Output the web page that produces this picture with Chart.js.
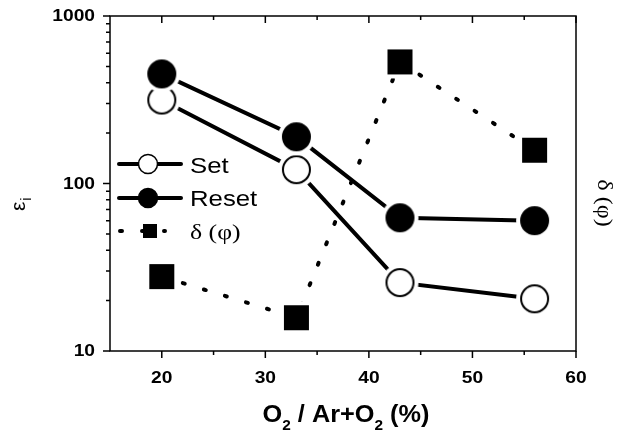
<!DOCTYPE html>
<html>
<head>
<meta charset="utf-8">
<script src="https://cdn.jsdelivr.net/npm/chart.js@4"></script>
<style>
    html, body { margin: 0; padding: 0; background: #fff; }
</style>
</head>
<body>
<canvas id="myChart" width="627" height="432"></canvas>
<script>
let o2_percent = [20, 33, 43, 56];
let set_values = [315, 121, 25.6, 20.5];
let reset_values = [451, 190, 62.4, 60];
let delta_values = [27.8, 15.8, 532, 158];
let x_ticks = [20, 30, 40, 50, 60];
let x_minor = [25, 35, 45, 55];
let y_ticks = [10, 100, 1000];

// marker images: white ring around the mark so lines stop short of it
function makeMarker(kind, size, ring) {
    let c = document.createElement('canvas');
    let full = Math.ceil(size + 2 * ring + 4);
    c.width = full;
    c.height = full;
    let g = c.getContext('2d');
    let m = full / 2;
    g.fillStyle = '#fff';
    if (kind === 'square') {
        g.fillRect(m - size / 2 - ring, m - size / 2 - ring, size + 2 * ring, size + 2 * ring);
        g.fillStyle = '#000';
        g.fillRect(m - size / 2, m - size / 2, size, size);
    } else {
        g.beginPath();
        g.arc(m, m, size / 2 + ring, 0, Math.PI * 2);
        g.fill();
        g.beginPath();
        g.arc(m, m, size / 2 - 1, 0, Math.PI * 2);
        g.fillStyle = kind === 'open' ? '#fff' : '#000';
        g.fill();
        g.lineWidth = 2;
        g.strokeStyle = '#000';
        g.stroke();
    }
    return c;
}

let openMark = makeMarker('open', 29, 4);
let fullMark = makeMarker('filled', 29, 4);
let squareMark = makeMarker('square', 25, 4);

function toPoints(values) {
    return o2_percent.map((x, i) => ({ x: x, y: values[i] }));
}

function drawText(ctx, text, x, y, font, hscale, align) {
    ctx.save();
    ctx.font = font;
    let w = ctx.measureText(text).width * hscale;
    let sx = x;
    if (align === 'center') sx = x - w / 2;
    if (align === 'right') sx = x - w;
    ctx.translate(sx, y);
    ctx.scale(hscale, 1);
    ctx.textAlign = 'left';
    ctx.fillText(text, 0, 0);
    ctx.restore();
    return w;
}

const decorations = {
    id: 'decorations',
    afterDatasetsDraw(chart) {
        let ctx = chart.ctx;
        let area = chart.chartArea;
        let xs = chart.scales.x;
        let ys = chart.scales.y;
        ctx.save();
        ctx.fillStyle = '#000';
        ctx.strokeStyle = '#000';

        // frame
        ctx.lineWidth = 1.5;
        ctx.strokeRect(area.left, area.top, area.right - area.left, area.bottom - area.top);

        // ticks
        ctx.beginPath();
        y_ticks.forEach(v => {
            let p = ys.getPixelForValue(v);
            ctx.moveTo(area.left - 7, p);
            ctx.lineTo(area.left, p);
        });
        [10, 100].forEach(d => {
            for (let k = 2; k <= 9; k++) {
                let p = ys.getPixelForValue(d * k);
                ctx.moveTo(area.left - 4, p);
                ctx.lineTo(area.left, p);
            }
        });
        x_ticks.forEach(v => {
            let p = xs.getPixelForValue(v);
            ctx.moveTo(p, area.bottom);
            ctx.lineTo(p, area.bottom + 7);
            ctx.moveTo(p, area.top);
            ctx.lineTo(p, area.top + 7);
        });
        x_minor.forEach(v => {
            let p = xs.getPixelForValue(v);
            ctx.moveTo(p, area.bottom);
            ctx.lineTo(p, area.bottom + 4);
            ctx.moveTo(p, area.top);
            ctx.lineTo(p, area.top + 4);
        });
        ctx.stroke();

        // tick labels
        ctx.textBaseline = 'middle';
        y_ticks.forEach(v => {
            drawText(ctx, String(v), area.left - 15, ys.getPixelForValue(v) + 1, 'bold 16px "Liberation Sans", Arial', 1.2, 'right');
        });
        ctx.textBaseline = 'alphabetic';
        x_ticks.forEach(v => {
            drawText(ctx, String(v), xs.getPixelForValue(v), 383, 'bold 16px "Liberation Sans", Arial', 1.2, 'center');
        });

        // x title with subscripts
        let big = 'bold 23px "Liberation Sans", Arial';
        let sub = 'bold 14px "Liberation Sans", Arial';
        let parts = [['O', big, 0], ['2', sub, 8], [' / Ar+O', big, 0], ['2', sub, 8], [' (%)', big, 0]];
        let hs = 1.1;
        let total = 0;
        parts.forEach(p => { ctx.font = p[1]; total += ctx.measureText(p[0]).width * hs; });
        let cx = (area.left + area.right) / 2 - total / 2 + 3;
        parts.forEach(p => {
            cx += drawText(ctx, p[0], cx, 422 + p[2], p[1], hs, 'left');
        });

        // left title  εi
        ctx.save();
        ctx.translate(25, 203);
        ctx.rotate(-Math.PI / 2);
        ctx.font = '21px "Liberation Sans", Arial';
        let we = ctx.measureText('ε').width;
        ctx.fillText('ε', -8, 0);
        ctx.font = '14px "Liberation Sans", Arial';
        ctx.fillText('i', -8 + we + 1, 6);
        ctx.restore();

        // right title  δ (φ)
        ctx.save();
        ctx.translate(598, 203);
        ctx.rotate(Math.PI / 2);
        drawText(ctx, 'δ (φ)', 0, 0, '21px "Liberation Serif", serif', 1.15, 'center');
        ctx.restore();

        // legend
        let rows = [
            { label: 'Set', y: 164, kind: 'open', font: '22px "Liberation Sans", Arial', dy: 9 },
            { label: 'Reset', y: 198, kind: 'filled', font: '22px "Liberation Sans", Arial', dy: 8 },
            { label: 'δ (φ)', y: 231, kind: 'square', font: '22px "Liberation Serif", serif', dy: 8 }
        ];
        rows.forEach(r => {
            ctx.save();
            ctx.lineWidth = 4;
            ctx.lineCap = 'round';
            ctx.beginPath();
            if (r.kind === 'square') {
                ctx.setLineDash([2, 20]);
                ctx.moveTo(120, r.y);
                ctx.lineTo(165, r.y);
            } else {
                ctx.moveTo(119, r.y);
                ctx.lineTo(181, r.y);
            }
            ctx.stroke();
            ctx.restore();
            if (r.kind === 'square') {
                ctx.fillRect(143, r.y - 7, 14, 14);
            } else {
                ctx.beginPath();
                ctx.arc(148, r.y, 9.5, 0, Math.PI * 2);
                ctx.fillStyle = r.kind === 'open' ? '#fff' : '#000';
                ctx.fill();
                ctx.lineWidth = 1.5;
                ctx.stroke();
                ctx.fillStyle = '#000';
            }
            drawText(ctx, r.label, 190, r.y + r.dy, r.font, 1.17, 'left');
        });

        ctx.restore();
    }
};

let chart_data = {
    datasets: [{
        label: 'Set',
        data: toPoints(set_values),
        borderColor: '#000',
        borderWidth: 4,
        pointStyle: openMark,
        yAxisID: 'y',
        order: 2
    },
    {
        label: 'Reset',
        data: toPoints(reset_values),
        borderColor: '#000',
        borderWidth: 4,
        pointStyle: fullMark,
        yAxisID: 'y',
        order: 1
    },
    {
        label: 'δ (φ)',
        data: toPoints(delta_values),
        borderColor: '#000',
        borderWidth: 4,
        borderDash: [2, 20],
        borderCapStyle: 'round',
        pointStyle: squareMark,
        yAxisID: 'y2',
        order: 3
    }]
};

let config = {
    type: 'line',
    data: chart_data,
    options: {
        responsive: false,
        animation: false,
        layout: { padding: { top: 16, left: 0, right: 0, bottom: 0 } },
        plugins: {
            legend: { display: false },
            tooltip: { enabled: false }
        },
        scales: {
            x: {
                type: 'linear',
                min: 15,
                max: 60,
                grid: { display: false },
                border: { display: false },
                ticks: { display: false },
                afterFit: scale => { scale.height = 81; }
            },
            y: {
                type: 'logarithmic',
                position: 'left',
                min: 10,
                max: 1000,
                grid: { display: false },
                border: { display: false },
                ticks: { display: false },
                afterFit: scale => { scale.width = 110; }
            },
            y2: {
                type: 'logarithmic',
                position: 'right',
                min: 10,
                max: 1000,
                grid: { display: false },
                border: { display: false },
                ticks: { display: false },
                afterFit: scale => { scale.width = 51; }
            }
        }
    },
    plugins: [decorations]
};

let myChart = new Chart(
    document.getElementById('myChart'),
    config
);
</script>
</body>
</html>
